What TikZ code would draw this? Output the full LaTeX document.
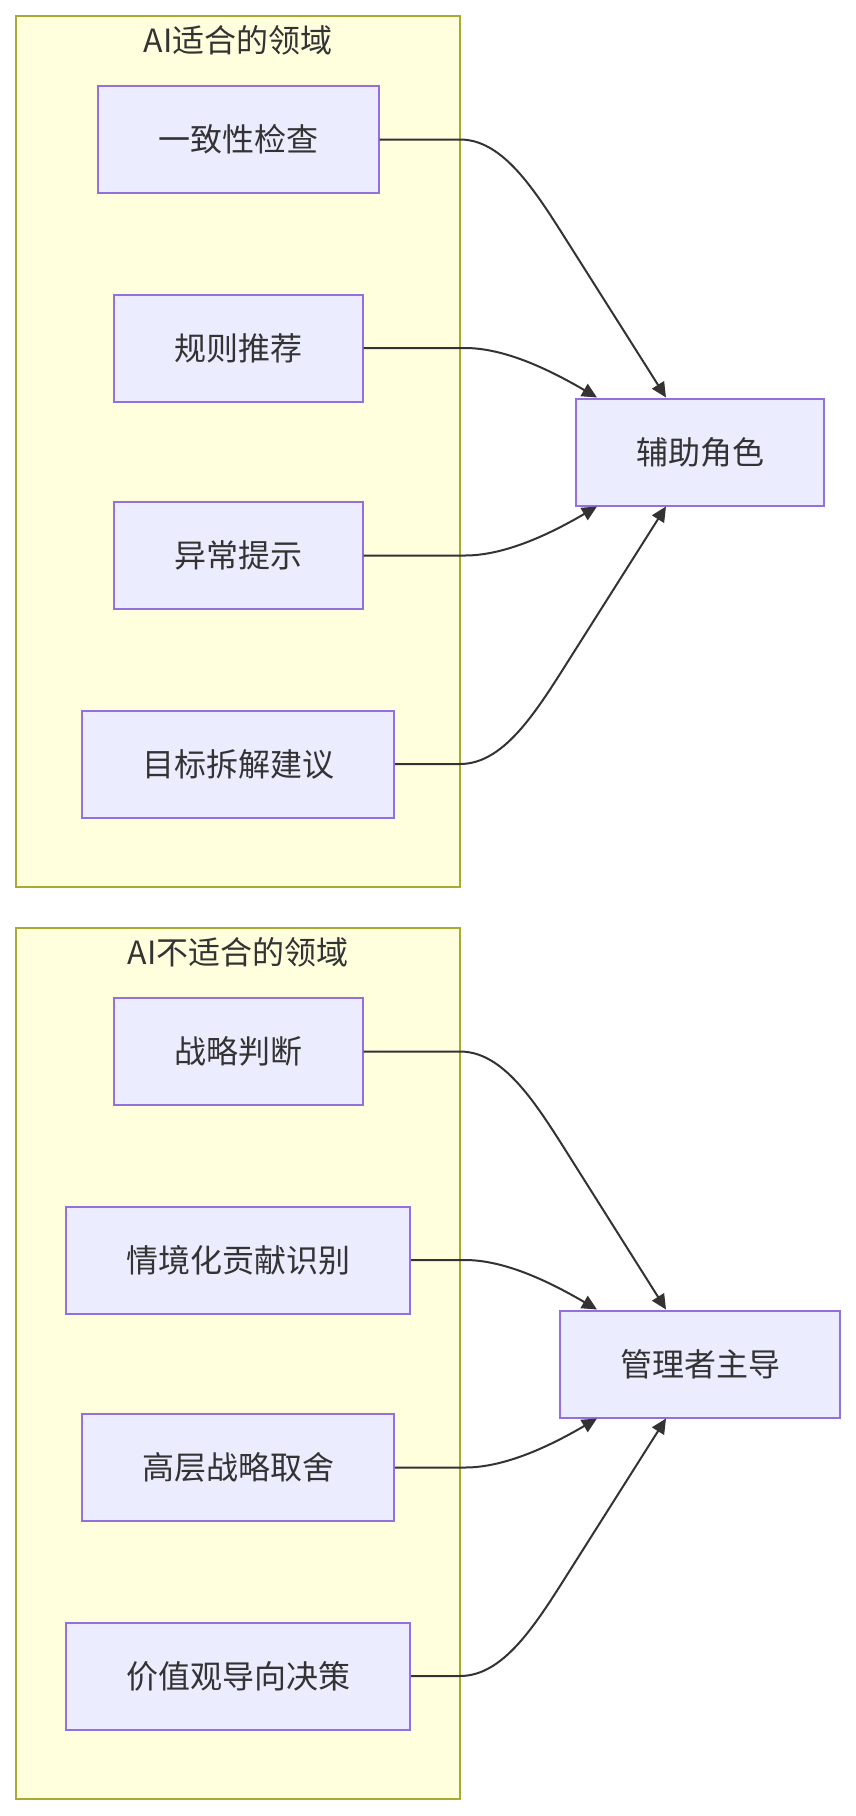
\documentclass[tikz,border=0pt]{standalone}
\usepackage{fontspec}
\setmainfont{Noto Sans CJK SC}
\usetikzlibrary{arrows.meta}
\definecolor{clfill}{HTML}{FFFFDE}
\definecolor{clline}{HTML}{AAAA33}
\definecolor{ndfill}{HTML}{ECECFF}
\definecolor{ndline}{HTML}{9370DB}
\definecolor{txt}{HTML}{333333}
\tikzset{
  cluster/.style={draw=clline, fill=clfill, line width=2pt},
  cltitle/.style={text=txt, font=\fontsize{32}{38}\selectfont, inner sep=0pt},
  box/.style={draw=ndline, fill=ndfill, line width=2pt, text=txt,
    font=\fontsize{32}{38}\selectfont, minimum height=107pt, inner sep=0pt},
  edge/.style={draw=txt, line width=2pt, -{Triangle[length=15pt,width=14pt]}},
}
\begin{document}
\begin{tikzpicture}[x=1pt,y=-1pt]
\useasboundingbox (0,0) rectangle (856,1816);
% clusters
\draw[cluster] (16,16) rectangle (460,887);
\node[cltitle] (t1) at (238,40) {AI适合的领域};
\draw[cluster] (16,928) rectangle (460,1799);
\node[cltitle] (t2) at (238,952) {AI不适合的领域};
% nodes cluster 1
\node[box, minimum width=281pt] (a1) at (238,139.5) {一致性检查};
\node[box, minimum width=249pt] (a2) at (238,348) {规则推荐};
\node[box, minimum width=249pt] (a3) at (238,555.5) {异常提示};
\node[box, minimum width=312pt] (a4) at (238,764) {目标拆解建议};
\node[box, minimum width=248pt] (aux) at (700,452) {辅助角色};
% nodes cluster 2
\node[box, minimum width=249pt] (b1) at (238,1051.5) {战略判断};
\node[box, minimum width=344pt] (b2) at (238,1260) {情境化贡献识别};
\node[box, minimum width=312pt] (b3) at (238,1467.5) {高层战略取舍};
\node[box, minimum width=344pt] (b4) at (238,1676) {价值观导向决策};
\node[box, minimum width=280pt] (mgr) at (700,1364) {管理者主导};
% edges cluster 1
\draw[edge] (a1.east) -- (460,139.5) .. controls (500,139.5) and (530,183) .. (560,230) -- ([xshift=91pt]aux.north west);
\draw[edge] (a2.east) -- (465,348) .. controls (505,348) and (550,370) .. ([xshift=22pt]aux.north west);
\draw[edge] (a3.east) -- (465,555.5) .. controls (505,555.5) and (550,534) .. ([xshift=22pt]aux.south west);
\draw[edge] (a4.east) -- (460,764) .. controls (500,764) and (530,721) .. (560,674) -- ([xshift=91pt]aux.south west);
% edges cluster 2
\draw[edge] (b1.east) -- (460,1051.5) .. controls (500,1051.5) and (530,1094.5) .. (560,1141.5) -- ([xshift=107pt]mgr.north west);
\draw[edge] (b2.east) -- (465,1260) .. controls (505,1260) and (550,1282) .. ([xshift=38pt]mgr.north west);
\draw[edge] (b3.east) -- (465,1467.5) .. controls (505,1467.5) and (550,1446) .. ([xshift=38pt]mgr.south west);
\draw[edge] (b4.east) -- (460,1676) .. controls (500,1676) and (530,1633) .. (560,1586) -- ([xshift=107pt]mgr.south west);
\end{tikzpicture}
\end{document}
